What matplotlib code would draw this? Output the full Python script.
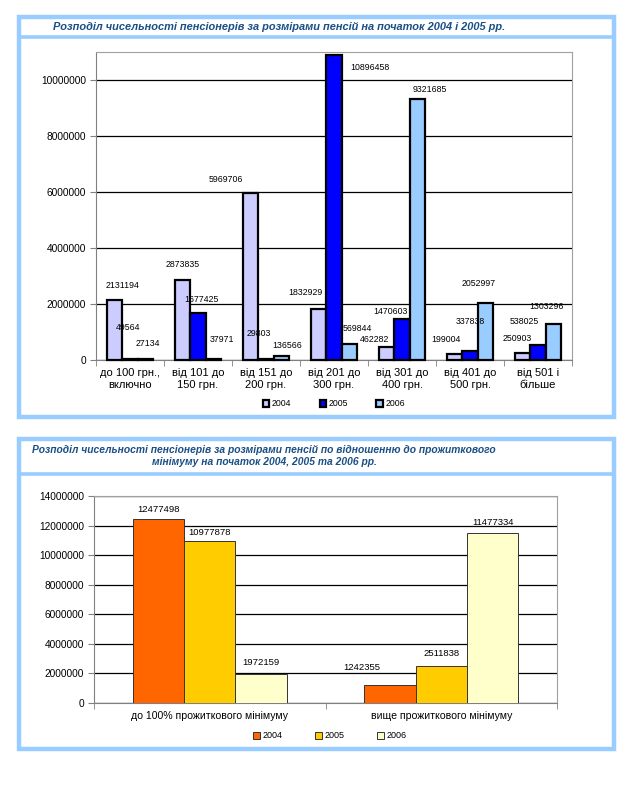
import matplotlib
matplotlib.use("Agg")
import matplotlib.pyplot as plt
from matplotlib.patches import Rectangle
from matplotlib.lines import Line2D
from matplotlib.ticker import FuncFormatter
import numpy as np

plt.rcParams['font.family'] = ['Liberation Sans', 'DejaVu Sans']

# ---------------- data: chart 1 ----------------
cats1 = ["до 100 грн.,\nвключно", "від 101 до\n150 грн.", "від 151 до\n200 грн.",
         "від 201 до\n300 грн.", "від 301 до\n400 грн.", "від 401 до\n500 грн.",
         "від 501 і\nбільше"]
years1 = ["2004", "2005", "2006"]
v2004 = [2131194, 2873835, 5969706, 1832929, 462282, 199004, 250903]
v2005 = [49564, 1677425, 29803, 10896458, 1470603, 337838, 538025]
v2006 = [27134, 37971, 136566, 569844, 9321685, 2052997, 1303296]
title1 = "Розподіл чисельності пенсіонерів за розмірами пенсій на початок 2004 і 2005 рр."

# ---------------- data: chart 2 ----------------
cats2 = ["до 100% прожиткового мінімуму", "вище прожиткового мінімуму"]
years2 = ["2004", "2005", "2006"]
w2004 = [12477498, 1242355]
w2005 = [10977878, 2511838]
w2006 = [1972159, 11477334]
title2 = ("Розподіл чисельності пенсіонерів за розмірами пенсій по відношенню до прожиткового\n"
          "мінімуму на початок 2004, 2005 та 2006 рр.")

# label offsets in pixels (dx, dy up) relative to bar top centre — styling only
off1 = [
    [(8, 15), (0, 15), (-25, 13), (-13, 16), (-12, 8), (-9, 15), (-6, 14)],
    [(-2, 31), (3, 14), (-7, 26), (36, -13), (-12, 7), (0, 29), (-14, 23)],
    [(3, 16), (9, 19), (6, 11), (8, 16), (13, 9), (-6, 19), (-7, 17)],
]
off2 = [
    [(0, 9), (-28, 17)],
    [(0, 8), (0, 12)],
    [(0, 11), (0, 11)],
]

W, H = 632, 791
fig = plt.figure(figsize=(W / 100, H / 100), dpi=100)
fig.patch.set_facecolor("white")

BORDER = "#99ccff"
TITLE_C = "#1a4f86"

def fx(x):
    return x / W

def fy(y):
    return 1 - y / H

def panel(x0, y0, x1, y1, ysep):
    fig.add_artist(Rectangle((fx(x0), fy(y1)), fx(x1) - fx(x0), fy(y0) - fy(y1),
                             transform=fig.transFigure, fill=False,
                             edgecolor=BORDER, linewidth=3.2, zorder=0))
    fig.add_artist(Line2D([fx(x0), fx(x1)], [fy(ysep), fy(ysep)],
                          transform=fig.transFigure, color=BORDER, linewidth=2.6))

panel(19, 17, 614, 417, 37)
panel(19, 439, 614, 749, 474)

fig.text(fx(53), fy(27), title1, ha="left", va="center", fontsize=7.9,
         fontstyle="italic", fontweight="bold", color=TITLE_C)
fig.text(fx(264), fy(456), title2, ha="center", va="center", fontsize=7.4,
         fontstyle="italic", fontweight="bold", color=TITLE_C, linespacing=1.3)

def style_axes(ax, n):
    for s in ["top", "right"]:
        ax.spines[s].set_color("#a0a0a0")
    ax.spines["left"].set_color("#808080")
    ax.spines["bottom"].set_color("#808080")
    ax.yaxis.grid(True, color="black", linewidth=0.9)
    ax.set_axisbelow(True)
    ax.set_xlim(-0.5, n - 0.5)
    ax.set_xticks(np.arange(n))
    ax.set_xticks(np.arange(n + 1) - 0.5, minor=True)
    ax.tick_params(axis="x", which="major", length=0, pad=6)
    ax.tick_params(axis="x", which="minor", length=4, color="#808080")
    ax.tick_params(axis="y", length=4, color="#808080", labelsize=7.3, pad=3)
    ax.yaxis.set_major_formatter(FuncFormatter(lambda v, p: f"{int(round(v))}"))

def to_pt(px):
    return px * 0.72

# ---------------- chart 1 ----------------
ax1 = fig.add_axes([fx(96), fy(360), fx(572) - fx(96), fy(52) - fy(360)])
n1 = len(cats1)
x = np.arange(n1)
bw = 1 / 4.5
cols1 = ["#ccccff", "#0000ff", "#99ccff"]
series1 = [v2004, v2005, v2006]
for i, (vals, c) in enumerate(zip(series1, cols1)):
    ax1.bar(x + (i - 1) * bw, vals, bw, color=c, edgecolor="black",
            linewidth=1.6, label=years1[i], zorder=3, clip_on=False)
    for j, v in enumerate(vals):
        dx, dy = off1[i][j]
        ax1.annotate(str(v), (x[j] + (i - 1) * bw, v), xytext=(to_pt(dx), to_pt(dy)),
                     textcoords="offset points", ha="center", va="center",
                     fontsize=6.3, color="black", zorder=5)
ax1.set_ylim(0, 11000000)
ax1.set_yticks(np.arange(0, 11000001, 2000000))
ax1.set_xticklabels(cats1, fontsize=8, linespacing=1.15)
style_axes(ax1, n1)
ax1.legend(ncol=3, loc="center", bbox_to_anchor=(fx(334), fy(404)),
           bbox_transform=fig.transFigure, frameon=False, fontsize=6.3,
           handlelength=0.75, handleheight=0.75, handletextpad=0.3,
           columnspacing=3.2, borderpad=0)

# ---------------- chart 2 ----------------
ax2 = fig.add_axes([fx(94), fy(703), fx(557) - fx(94), fy(496) - fy(703)])
n2 = len(cats2)
x2 = np.arange(n2)
cols2 = ["#ff6600", "#ffcc00", "#ffffcc"]
series2 = [w2004, w2005, w2006]
for i, (vals, c) in enumerate(zip(series2, cols2)):
    ax2.bar(x2 + (i - 1) * bw, vals, bw, color=c, edgecolor="#333333",
            linewidth=0.7, label=years2[i], zorder=3)
    for j, v in enumerate(vals):
        dx, dy = off2[i][j]
        ax2.annotate(str(v), (x2[j] + (i - 1) * bw, v), xytext=(to_pt(dx), to_pt(dy)),
                     textcoords="offset points", ha="center", va="center",
                     fontsize=6.8, color="black", zorder=5)
ax2.set_ylim(0, 14000000)
ax2.set_yticks(np.arange(0, 14000001, 2000000))
ax2.set_xticklabels(cats2, fontsize=7.6)
style_axes(ax2, n2)
ax2.legend(ncol=3, loc="center", bbox_to_anchor=(fx(330), fy(736)),
           bbox_transform=fig.transFigure, frameon=False, fontsize=6.5,
           handlelength=0.75, handleheight=0.75, handletextpad=0.3,
           columnspacing=3.6, borderpad=0)

fig.savefig("out.png", dpi=100, facecolor="white")
